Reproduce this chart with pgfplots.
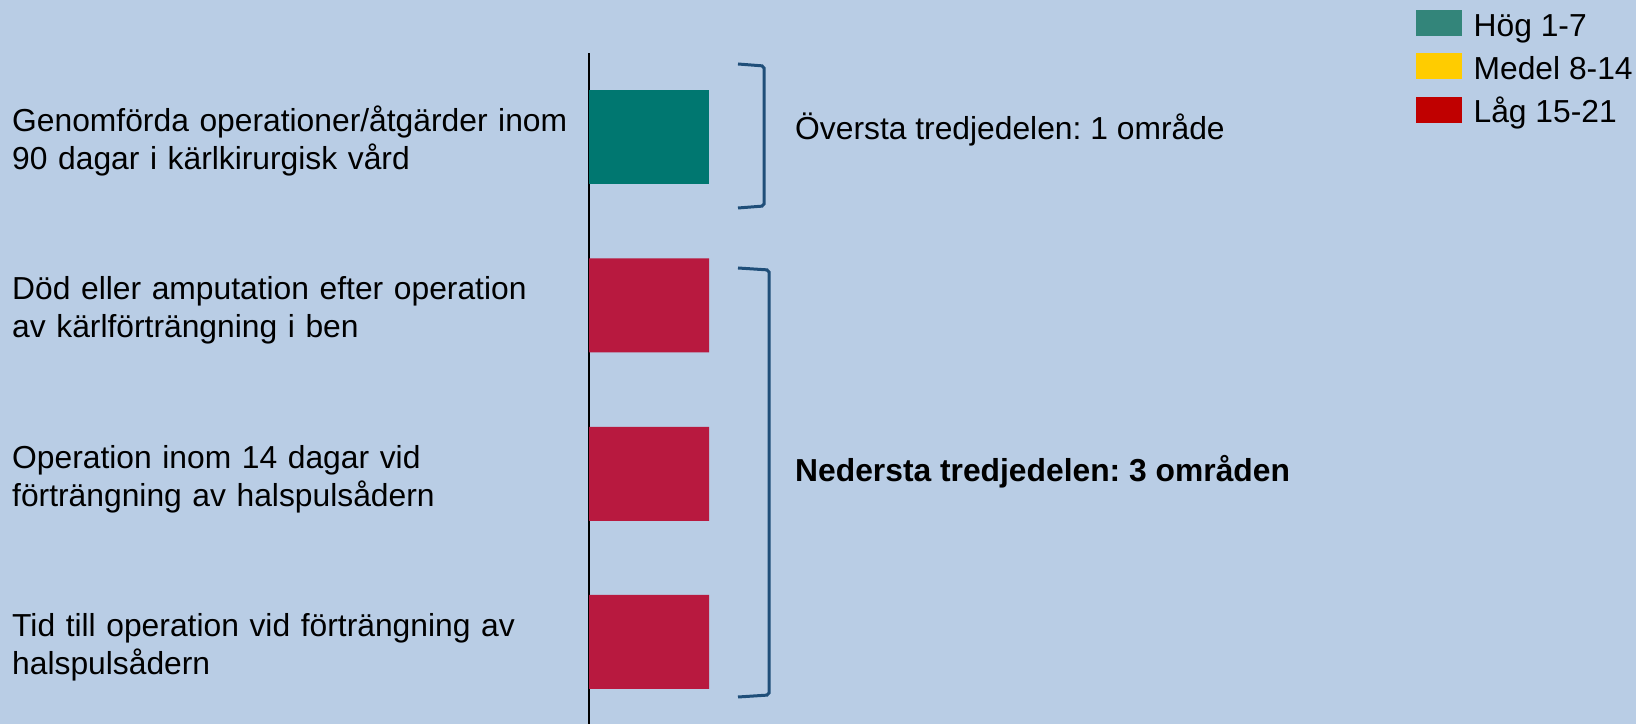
\documentclass[border=0pt]{standalone}
\usepackage{pgfplots}
\pgfplotsset{compat=1.18}
\usepackage{fontspec}
\setmainfont{Liberation Sans}
\frenchspacing
\definecolor{bgblue}{HTML}{B9CDE5}
\definecolor{barteal}{HTML}{007770}
\definecolor{barred}{HTML}{B8193F}
\definecolor{legteal}{HTML}{33857A}
\definecolor{legyellow}{HTML}{FFCC00}
\definecolor{legred}{HTML}{C00000}
\definecolor{bracec}{HTML}{1F4E79}
\newcommand{\bigf}{\fontsize{31.8bp}{38bp}\selectfont}
\newcommand{\lab}[2]{\rule{0pt}{30bp}#1\\#2\rule[-7bp]{0pt}{7bp}}
\begin{document}
\begin{tikzpicture}
\path[use as bounding box, fill=bgblue] (0,0) rectangle (1636bp,724bp);
\begin{axis}[
  at={(589bp,0bp)}, anchor=south west,
  width=1047bp, height=671bp, scale only axis,
  xmin=0, xmax=1047, ymin=0, ymax=671,
  enlargelimits=false, clip=false,
  axis x line=none,
  axis y line=left,
  axis line style={-, black, line width=2bp},
  major tick length=0pt,
  xbar, bar shift=0pt, bar width=94,
  ytick={82,250,418.5,587},
  yticklabels={{\lab{Tid till operation vid förträngning av}{halspulsådern}},
               {\lab{Operation inom 14 dagar vid}{förträngning av halspulsådern}},
               {\lab{Död eller amputation efter operation}{av kärlförträngning i ben}},
               {\lab{Genomförda operationer/åtgärder inom}{90 dagar i kärlkirurgisk vård}}},
  yticklabel style={anchor=west, xshift=-577bp, yshift=-2bp, text width=570bp, align=left, inner sep=0pt, font=\bigf},
  legend style={at={(rel axis cs:0.7899,1.0641)}, anchor=north west, draw=none, fill=none, inner sep=0pt,
    font=\bigf, row sep=10bp,
    nodes={inner sep=0pt, text height=26bp, text depth=7bp},
    /tikz/every odd column/.append style={column sep=12bp}},
  legend cell align=left,
]
\addplot[forget plot, fill=barteal, draw=none] coordinates {(120,587)};
\addplot[forget plot, fill=barred, draw=none] coordinates {(120,418.5) (120,250) (120,82)};
\addlegendimage{legend image code/.code={\fill[legteal] (0bp,-8.5bp) rectangle (45bp,16.5bp);}}
\addlegendentry{Hög 1-7}
\addlegendimage{legend image code/.code={\fill[legyellow] (0bp,-8.5bp) rectangle (45bp,16.5bp);}}
\addlegendentry{Medel 8-14}
\addlegendimage{legend image code/.code={\fill[legred] (0bp,-8.5bp) rectangle (45bp,16.5bp);}}
\addlegendentry{Låg 15-21}
\draw[bracec, line width=3bp, rounded corners=2bp] (axis cs:149,660) -- (axis cs:175,658) -- (axis cs:175,518) -- (axis cs:149,516);
\draw[bracec, line width=3bp, rounded corners=2bp] (axis cs:149,456) -- (axis cs:180,454) -- (axis cs:180,29) -- (axis cs:149,27);
\node[anchor=west, inner sep=0pt, font=\bigf] at (axis cs:206,594) {Översta tredjedelen: 1 område};
\node[anchor=west, inner sep=0pt, font=\bigf\bfseries] at (axis cs:206,252) {Nedersta tredjedelen: 3 områden};
\end{axis}
\end{tikzpicture}
\end{document}
